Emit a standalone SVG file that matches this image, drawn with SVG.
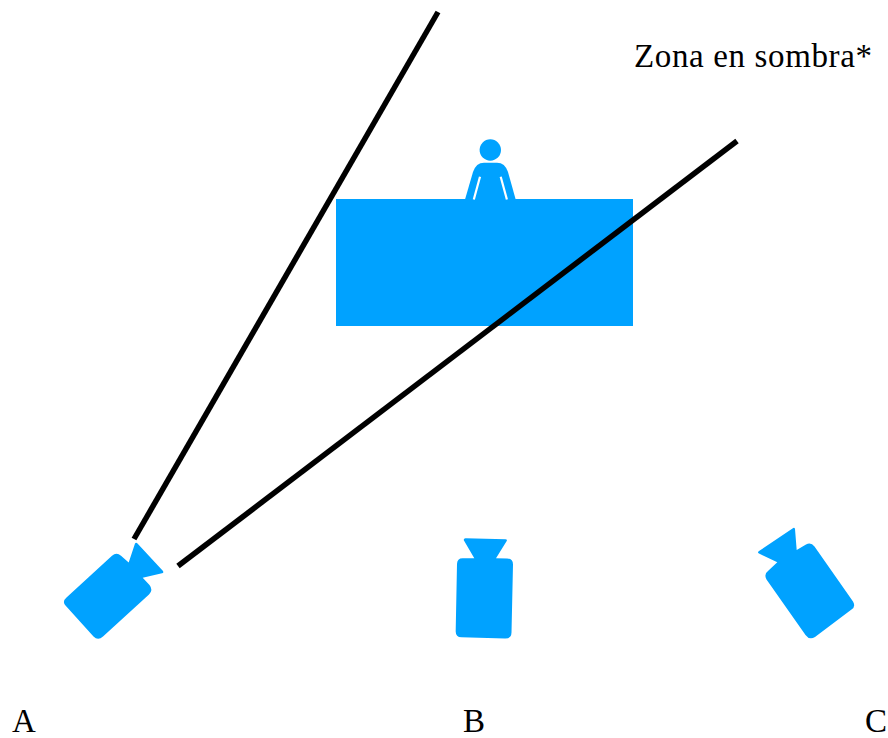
<svg xmlns="http://www.w3.org/2000/svg" width="888" height="738" viewBox="0 0 888 738">
<style>
.shape{fill:#00a2ff}
.slit{fill:none;stroke:#fff;stroke-width:2.200}
.line{fill:none;stroke:#000;stroke-width:5.500}
.label{font-family:"Liberation Serif",serif;font-size:33px;fill:#000}
</style>
<rect width="888" height="738" fill="#fff"/>
<g id="table"><rect class="shape" x="336" y="199" width="297" height="127"/></g>
<g id="person">
<circle class="shape" cx="490.3" cy="150" r="10.7"/>
<path class="shape" d="M465 199.500L473 172Q476 162.700 484 162.700H497Q505 162.700 508 172L515.700 199.500Z"/>
<path class="slit" d="M480 176.700L473.800 199.500M500.700 176.700L506.900 199.500"/>
</g>
<g id="camera-a">
<path class="shape" d="M112 555.800Q116.500 551.800 121 555.800L128.700 562.500L135 543.500Q136 541.800 137.500 543.500L163 571Q164 573 162 573.200L142.700 577.700L149.500 585Q153.500 590 149 594.500L103 636.500Q98 641 93.500 636.500L65.500 605.500Q62 601.500 66.500 597.500Z"/>
</g>
<g id="camera-b">
<path class="shape" d="M463.800 540.300Q463.500 538.300 465.500 538.300L505.500 539.300Q507.500 539.500 506.700 541L496 558.300L507 558.500Q513 558.700 513 564.500L511.500 632.500Q511.300 638.700 505 638.500L461.500 637.300Q455.500 637 455.700 631L457 564Q457.200 558 463 558.200H474.300Z"/>
</g>
<g id="camera-c">
<path class="shape" d="M792.500 528.500Q794.500 527 795 529L796.700 550L806 544.500Q811 542 814.500 546.500L853 601.500Q856 606.500 851.500 609.500L815 637Q809.500 640.500 805.500 635L766.500 579.500Q763.500 574 768.500 570.500L777.300 562.300L759 553.500Q757 552.500 759 551Z"/>
</g>
<g id="connectors">
<path class="line" d="M134 539L438 12"/>
<path class="line" d="M178 566L737 141"/>
</g>
<g id="labels">
<text class="label" x="634" y="67" textLength="238" lengthAdjust="spacing">Zona en sombra*</text>
<text class="label" x="12" y="732">A</text>
<text class="label" x="463" y="732">B</text>
<text class="label" x="865" y="732">C</text>
</g>
</svg>
